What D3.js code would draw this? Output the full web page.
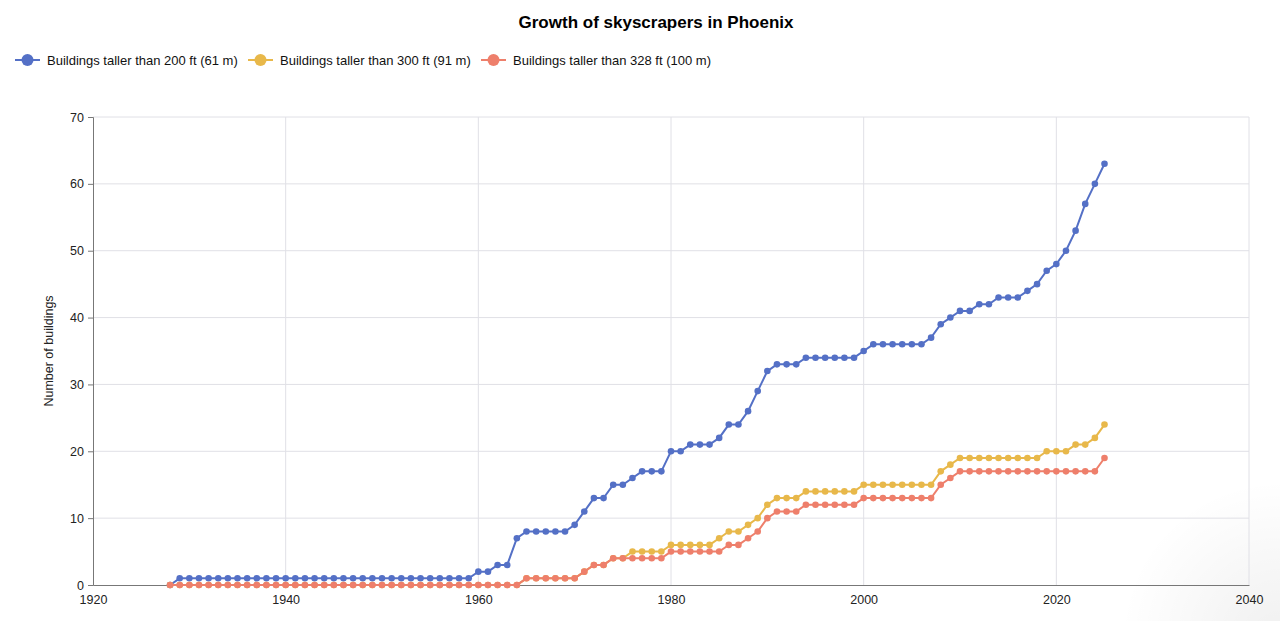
<!DOCTYPE html>
<html>
<head>
<meta charset="utf-8">
<script src="https://cdn.jsdelivr.net/npm/d3@7/dist/d3.min.js"></script>
<style>
  body { margin: 0; background: #fff; }
  svg { display: block; font-family: "Liberation Sans", Arial, sans-serif; }
</style>
</head>
<body>
<svg id="chart" width="1280" height="621"></svg>
<script>
// --- data ---
const years = d3.range(1928, 2026);

const over200 = [
  0, 1, 1, 1, 1, 1, 1, 1, 1, 1, 1, 1, 1, 1, 1, 1, 1, 1, 1, 1, 1, 1, 1, 1, 1, 1, 1, 1, 1, 1, 1, 1, // 1928-1959
  2, 2, 3, 3, 7, 8, 8, 8, 8, 8,            // 1960-1969
  9, 11, 13, 13, 15, 15, 16, 17, 17, 17,   // 1970-1979
  20, 20, 21, 21, 21, 22, 24, 24, 26, 29,  // 1980-1989
  32, 33, 33, 33, 34, 34, 34, 34, 34, 34,  // 1990-1999
  35, 36, 36, 36, 36, 36, 36, 37, 39, 40,  // 2000-2009
  41, 41, 42, 42, 43, 43, 43, 44, 45, 47,  // 2010-2019
  48, 50, 53, 57, 60, 63                   // 2020-2025
];

const over300 = [
  0, 0, 0, 0, 0, 0, 0, 0, 0, 0, 0, 0, 0, 0, 0, 0, 0, 0, 0, 0, 0, 0, 0, 0, 0, 0, 0, 0, 0, 0, 0, 0, // 1928-1959
  0, 0, 0, 0, 0, 1, 1, 1, 1, 1,            // 1960-1969
  1, 2, 3, 3, 4, 4, 5, 5, 5, 5,            // 1970-1979
  6, 6, 6, 6, 6, 7, 8, 8, 9, 10,           // 1980-1989
  12, 13, 13, 13, 14, 14, 14, 14, 14, 14,  // 1990-1999
  15, 15, 15, 15, 15, 15, 15, 15, 17, 18,  // 2000-2009
  19, 19, 19, 19, 19, 19, 19, 19, 19, 20,  // 2010-2019
  20, 20, 21, 21, 22, 24                   // 2020-2025
];

const over328 = [
  0, 0, 0, 0, 0, 0, 0, 0, 0, 0, 0, 0, 0, 0, 0, 0, 0, 0, 0, 0, 0, 0, 0, 0, 0, 0, 0, 0, 0, 0, 0, 0, // 1928-1959
  0, 0, 0, 0, 0, 1, 1, 1, 1, 1,            // 1960-1969
  1, 2, 3, 3, 4, 4, 4, 4, 4, 4,            // 1970-1979
  5, 5, 5, 5, 5, 5, 6, 6, 7, 8,            // 1980-1989
  10, 11, 11, 11, 12, 12, 12, 12, 12, 12,  // 1990-1999
  13, 13, 13, 13, 13, 13, 13, 13, 15, 16,  // 2000-2009
  17, 17, 17, 17, 17, 17, 17, 17, 17, 17,  // 2010-2019
  17, 17, 17, 17, 17, 19                   // 2020-2025
];

const seriesNames = [
  "Buildings taller than 200 ft (61 m)",
  "Buildings taller than 300 ft (91 m)",
  "Buildings taller than 328 ft (100 m)"
];
const seriesColors = ["#5470c6", "#e8b84a", "#ee7f6b"];
const xTicks = [1920, 1940, 1960, 1980, 2000, 2020, 2040];
const yTicks = [0, 10, 20, 30, 40, 50, 60, 70];

const series = [over200, over300, over328].map((vals, i) => ({
  name: seriesNames[i],
  color: seriesColors[i],
  points: years.map((yr, j) => ({ year: yr, value: vals[j] }))
}));

// --- layout ---
const svg = d3.select("#chart");
const plotL = 93, plotR = 1249, plotT = 117, plotB = 585;

const x = d3.scaleLinear().domain([1920, 2040]).range([plotL, plotR]);
const y = d3.scaleLinear().domain([0, 70]).range([plotB, plotT]);

// soft shade in the bottom-right corner, as in the screenshot
const defs = svg.append("defs");
const shade = defs.append("radialGradient").attr("id", "shade")
  .attr("cx", 1280).attr("cy", 640).attr("r", 160)
  .attr("gradientUnits", "userSpaceOnUse");
shade.append("stop").attr("offset", "0%").attr("stop-color", "#000").attr("stop-opacity", 0.06);
shade.append("stop").attr("offset", "100%").attr("stop-color", "#000").attr("stop-opacity", 0);
svg.append("rect").attr("x", 1100).attr("y", 480).attr("width", 180).attr("height", 141)
  .attr("fill", "url(#shade)");

// title
svg.append("text")
  .attr("x", 656).attr("y", 28)
  .attr("text-anchor", "middle")
  .attr("font-size", 17).attr("font-weight", "bold")
  .attr("fill", "#000")
  .text("Growth of skyscrapers in Phoenix");

// legend
const legendX = [15, 248, 481];
series.forEach((s, i) => {
  const g = svg.append("g").attr("transform", `translate(${legendX[i]},60)`);
  g.append("line").attr("x1", 0).attr("x2", 25).attr("y1", 0).attr("y2", 0)
    .attr("stroke", s.color).attr("stroke-width", 2);
  g.append("circle").attr("cx", 12.5).attr("cy", 0).attr("r", 6).attr("fill", s.color);
  g.append("text").attr("x", 32).attr("y", 0).attr("dy", "0.35em")
    .attr("font-size", 13).attr("fill", "#111").text(s.name);
});

// grid
const grid = svg.append("g");
grid.selectAll("line.h").data(yTicks.filter(d => d > 0)).join("line")
  .attr("class", "h")
  .attr("x1", plotL).attr("x2", plotR)
  .attr("y1", d => y(d)).attr("y2", d => y(d))
  .attr("stroke", "#e0e0e6").attr("stroke-width", 1);
grid.selectAll("line.v").data(xTicks.filter(d => d > 1920)).join("line")
  .attr("class", "v")
  .attr("x1", d => x(d)).attr("x2", d => x(d))
  .attr("y1", plotT).attr("y2", plotB)
  .attr("stroke", "#e0e0e6").attr("stroke-width", 1);

// axes
const yAxis = svg.append("g").attr("transform", `translate(${plotL},0)`)
  .call(d3.axisLeft(y).tickValues(yTicks).tickSize(5).tickPadding(4));
const xAxis = svg.append("g").attr("transform", `translate(0,${plotB})`)
  .call(d3.axisBottom(x).tickValues(xTicks).tickFormat(d3.format("d")).tickSize(0).tickPadding(10));
[yAxis, xAxis].forEach(a => {
  a.select(".domain").attr("stroke", "#777");
  a.selectAll(".tick line").attr("stroke", "#777");
  a.selectAll(".tick text").attr("font-size", 12.5).attr("fill", "#222")
    .attr("font-family", "Liberation Sans, Arial, sans-serif");
});

svg.append("text")
  .attr("transform", `translate(53,${(plotT + plotB) / 2}) rotate(-90)`)
  .attr("text-anchor", "middle")
  .attr("font-size", 12.5).attr("fill", "#222")
  .text("Number of buildings");

// lines + points
const line = d3.line().x(d => x(d.year)).y(d => y(d.value));
series.forEach(s => {
  const g = svg.append("g");
  g.append("path").datum(s.points)
    .attr("d", line).attr("fill", "none")
    .attr("stroke", s.color).attr("stroke-width", 2);
  g.selectAll("circle").data(s.points).join("circle")
    .attr("cx", d => x(d.year)).attr("cy", d => y(d.value))
    .attr("r", 3.3).attr("fill", s.color);
});
</script>
</body>
</html>
